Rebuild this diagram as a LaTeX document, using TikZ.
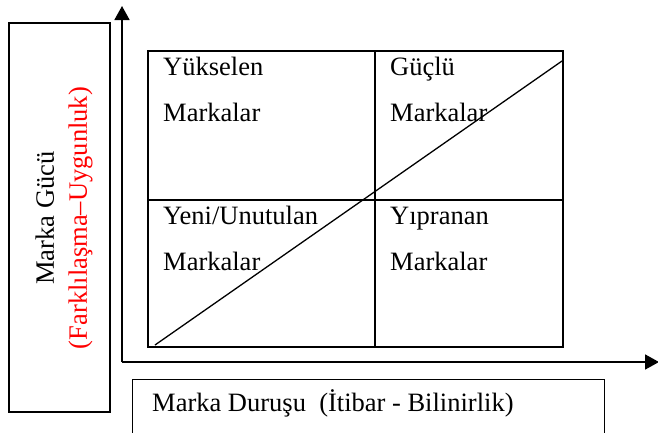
\documentclass[tikz,border=0pt]{standalone}
\usepackage{fontspec}
\setmainfont{Liberation Serif}
\usetikzlibrary{arrows.meta}
\tikzset{
  frame/.style={draw, line width=1.3pt, inner sep=0pt},
  thin frame/.style={draw, line width=1pt},
  axis/.style={line width=1.7pt, -{Triangle[length=14pt,width=15pt]}},
  cell text/.style={anchor=base west, inner sep=0pt, align=left,
    font=\fontsize{26.5}{46}\selectfont},
}

\begin{document}
\begin{tikzpicture}[x=1pt, y=-1pt]
            \clip (0,0) rectangle (658,432);

            % axes
            \coordinate (origin) at (122,362);
            \coordinate (ytip) at (122,6);
            \coordinate (xtip) at (659,362);
            \draw[axis] (origin) -- (ytip);
            \draw[axis] (origin) -- (xtip);

            % left label box
            \node[frame, minimum width=101pt, minimum height=389pt] (power) at (59.5,217.5) {};
            \node[rotate=90, align=center, font=\fontsize{26.5}{33}\selectfont] (powerlabel) at (64,218)
                {Marka Gücü\\\textcolor{red}{(Farklılaşma–Uygunluk)}};

            % bottom label box
            \draw[thin frame] (132,379) rectangle (604,450);
            \node[anchor=base west, inner sep=0pt, font=\fontsize{26.5}{30}\selectfont] (stance) at (152,411)
                {Marka Duruşu\ \ (İtibar - Bilinirlik)};

            % matrix
            \node[frame, minimum width=415pt, minimum height=296pt] (grid) at (355.5,199) {};
            \draw[frame] (375,0 |- grid.north) -- (375,0 |- grid.south);
            \draw[frame] (grid.west |- 0,200) -- (grid.east |- 0,200);

            % base = baseline of the second line
            \node[cell text] (rising) at (163,121) {Yükselen\\Markalar};
            \node[cell text] (strong) at (390,121) {Güçlü\\Markalar};
            \node[cell text] (new) at (163,270) {Yeni/Unutulan\\Markalar};
            \node[cell text] (worn) at (390,270) {Yıpranan\\Markalar};

            \coordinate (low) at (155,345);
            \coordinate (high) at (562,61);
            \draw[line width=1.3pt] (low) -- (high);
        \end{tikzpicture}
\end{document}
